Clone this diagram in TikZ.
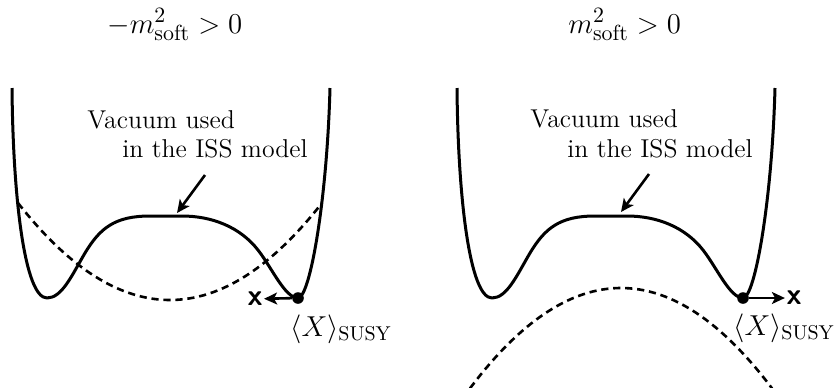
\documentclass[tikz,border=0pt]{standalone}
\usetikzlibrary{arrows.meta}
\begin{document}
\begin{tikzpicture}[x=0.5pt,y=-0.5pt,
  pot/.style={line width=1.5pt,line join=round},
  soft/.style={line width=1.3pt,dash pattern=on 3.6pt off 2.4pt},
  lbl/.style={inner sep=0pt,font=\fontsize{12.9}{16}\selectfont},
  ttl/.style={inner sep=0pt,font=\fontsize{15.7}{18}\selectfont},
  vevlbl/.style={inner sep=0pt,font=\fontsize{14.6}{17}\selectfont},
  vac/.style={circle,fill=black,inner sep=0pt,minimum size=5.8pt},
  xmark/.style={inner sep=0.6pt,font=\fontsize{15}{17}\selectfont\sffamily\bfseries},
  arr/.style={line width=1.3pt,-{Stealth[length=6.5pt,width=6pt,inset=1.6pt]}},
  well/.pic={\draw[pot] (12,88) .. controls (13,200) and (25,298) .. (47,298)
      .. controls (62,298) and (72,275) .. (85,253)
      .. controls (100,228) and (115,216) .. (150,216) -- (182,216)
      .. controls (212,216) and (240,227) .. (258,250)
      .. controls (272,268) and (285,298) .. (298,298)
      .. controls (310,298) and (327,200) .. (330,88);}]
\useasboundingbox (0,0) rectangle (840,387);

% ---------- left panel ----------
\node[ttl,anchor=base west] (tL) at (107,33) {$-m^2_{\rm soft}>0$};
\draw[soft] plot[domain=18:322,samples=60] (\x,{300-42*((\x-170)/100)^2});
\pic at (0,0) {well};
\node[vac] (dL) at (298,298) {};
\node[xmark] (xL) at (255,299) {x};
\draw[arr] (dL) -- (xL);
\node[vevlbl,anchor=base west] (sL) at (290,336) {$\langle X\rangle_{\rm SUSY}$};
\node[lbl,anchor=base west] (v1L) at (87,128) {Vacuum used};
\node[lbl,anchor=base west] (v2L) at (122,157) {in the ISS model};
\coordinate (aL0) at (205,175);
\coordinate (aL1) at (177,213);
\draw[arr] (aL0) -- (aL1);

% ---------- right panel ----------
\node[ttl,anchor=base west] (tR) at (568,33) {$m^2_{\rm soft}>0$};
\draw[soft] plot[domain=470:772,samples=60] (\x,{288+44*((\x-621)/100)^2});
\pic at (445,0) {well};
\node[vac] (dR) at (743,298) {};
\node[xmark] (xR) at (794,298) {x};
\draw[arr] (dR) -- (xR);
\node[vevlbl,anchor=base west] (sR) at (733,335) {$\langle X\rangle_{\rm SUSY}$};
\node[lbl,anchor=base west] (v1R) at (530,127) {Vacuum used};
\node[lbl,anchor=base west] (v2R) at (567,157) {in the ISS model};
\coordinate (aR0) at (649,174);
\coordinate (aR1) at (621,212);
\draw[arr] (aR0) -- (aR1);
\end{tikzpicture}
\end{document}
